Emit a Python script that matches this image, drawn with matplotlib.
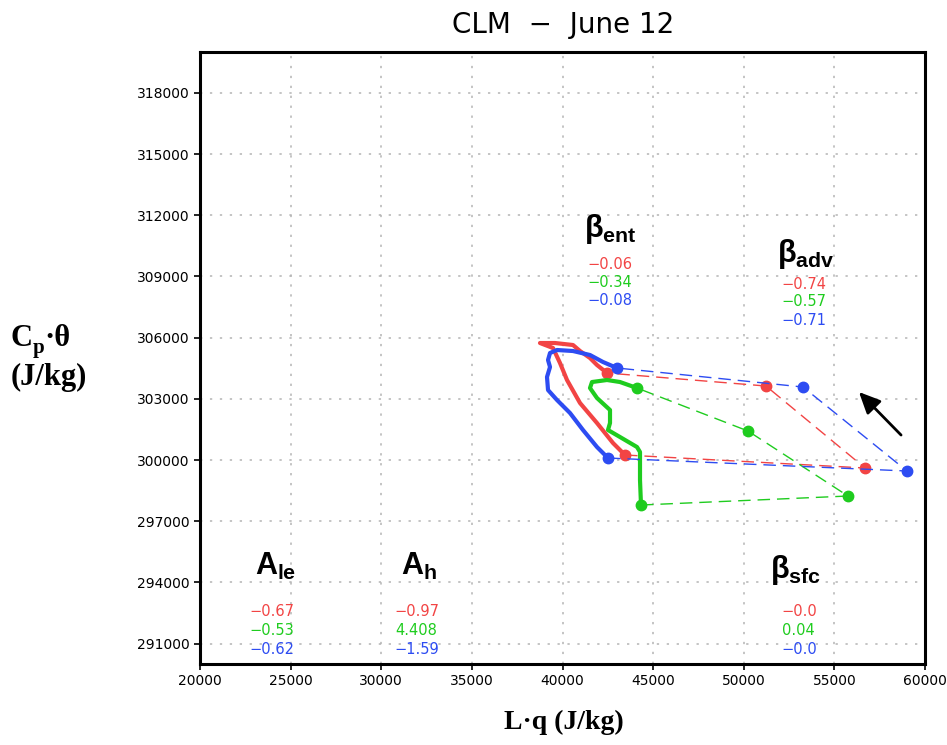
import matplotlib
matplotlib.use('Agg')
import matplotlib.pyplot as plt

plt.rcParams['mathtext.fontset'] = 'custom'
plt.rcParams['mathtext.rm'] = 'Liberation Sans:bold'
plt.rcParams['mathtext.it'] = 'Liberation Sans:bold'
plt.rcParams['mathtext.bf'] = 'Liberation Sans:bold'

RED = '#f24444'
GREEN = '#1fcc1f'
BLUE = '#2d4cf2'

# solid (daytime) trajectories
red_x = [42455, 41902, 41516, 40965, 40578, 39585, 38758, 39475, 39861, 40247, 40965, 41902, 42785, 43448]
red_y = [304265, 304657, 305000, 305343, 305637, 305735, 305735, 305490, 304755, 303922, 302794, 301813, 300833, 300245]
green_x = [44109, 43171, 42454, 41627, 41516, 41902, 42620, 42620, 42509, 43171, 44109, 44275, 44275, 44330]
green_y = [303529, 303823, 303922, 303823, 303529, 303039, 302451, 301814, 301471, 301127, 300637, 300392, 299020, 297794]
blue_x = [43006, 42234, 41516, 40578, 39696, 39310, 39200, 39310, 39144, 39200, 39696, 40413, 41130, 41902, 42509]
blue_y = [304510, 304804, 305147, 305343, 305392, 305245, 304902, 304559, 304069, 303431, 302941, 302304, 301471, 300637, 300098]

# dashed segments between the marked points
red_mx = [43448, 56690, 51226, 42455]
red_my = [300245, 299608, 303627, 304265]
green_mx = [44330, 55750, 50233, 44109]
green_my = [297794, 298235, 301421, 303529]
blue_mx = [42509, 59005, 53268, 43006]
blue_my = [300098, 299461, 303578, 304510]

# coefficient tables
groups = ['ent', 'adv', 'le', 'h', 'sfc']
red_vals = ['\u22120.06', '\u22120.74', '\u22120.67', '\u22120.97', '\u22120.0']
green_vals = ['\u22120.34', '\u22120.57', '\u22120.53', '4.408', '0.04']
blue_vals = ['\u22120.08', '\u22120.71', '\u22120.62', '\u22121.59', '\u22120.0']
group_titles = [r'$\beta_{ent}$', r'$\beta_{adv}$', r'$A_{le}$', r'$A_{h}$', r'$\beta_{sfc}$']
title_pos = [(42650, 311300), (53400, 310100), (24150, 294800), (32050, 294800), (52850, 294600)]
value_x = [41400, 52100, 22750, 30750, 52100]
value_y = [(309560, 308680, 307800), (308620, 307780, 306860), (292550, 291620, 290700),
           (292550, 291620, 290700), (292550, 291620, 290700)]

fig = plt.figure(figsize=(9.47, 7.45), dpi=100)
ax = fig.add_axes([0.2112, 0.1087, 0.7656, 0.8215])

ax.set_xlim(20000, 60000)
ax.set_ylim(290000, 320000)
ax.set_xticks(range(20000, 60001, 5000))
ax.set_yticks(range(291000, 318001, 3000))
ax.tick_params(labelsize=10, length=4, width=1.2, direction='out')
ax.grid(True, color='#b4b4b4', linestyle=(0, (1.5, 5)), linewidth=1.1)
for s in ax.spines.values():
    s.set_linewidth(2.2)

for xs, ys, mx, my, c in [(red_x, red_y, red_mx, red_my, RED),
                          (green_x, green_y, green_mx, green_my, GREEN),
                          (blue_x, blue_y, blue_mx, blue_my, BLUE)]:
    ax.plot(mx, my, color=c, lw=1.0, dashes=(9, 5))
    ax.plot(xs, ys, color=c, lw=3, solid_capstyle='round')
    ax.plot(mx, my, 'o', color=c, ms=7.5)

ax.annotate('', xy=(56247, 303431), xytext=(58785, 301127),
            arrowprops=dict(arrowstyle='-|>,head_length=1.3,head_width=0.6', color='black', lw=2))

for i in range(len(groups)):
    ax.text(title_pos[i][0], title_pos[i][1], group_titles[i], fontsize=22,
            ha='center', va='center')
    for v, c, yy in zip([red_vals[i], green_vals[i], blue_vals[i]], [RED, GREEN, BLUE], value_y[i]):
        ax.text(value_x[i], yy, v, color=c, fontsize=10.5, ha='left', va='center')

fig.text(0.595, 0.966, 'CLM  \u2212  June 12', fontsize=20, ha='center', va='center')
fig.text(0.595, 0.030, 'L\u00b7q (J/kg)', fontsize=20, ha='center', va='center',
         family='Liberation Serif', weight='bold')

# y label with subscript drawn as separate pieces
fig.text(0.011, 0.545, 'C', fontsize=22, ha='left', va='center', family='Liberation Serif', weight='bold')
fig.text(0.035, 0.533, 'p', fontsize=15, ha='left', va='center', family='Liberation Serif', weight='bold')
fig.text(0.047, 0.545, '\u00b7\u03b8', fontsize=22, ha='left', va='center', family='Liberation Serif', weight='bold')
fig.text(0.011, 0.493, '(J/kg)', fontsize=22, ha='left', va='center', family='Liberation Serif', weight='bold')

fig.savefig('out.png', dpi=100)
